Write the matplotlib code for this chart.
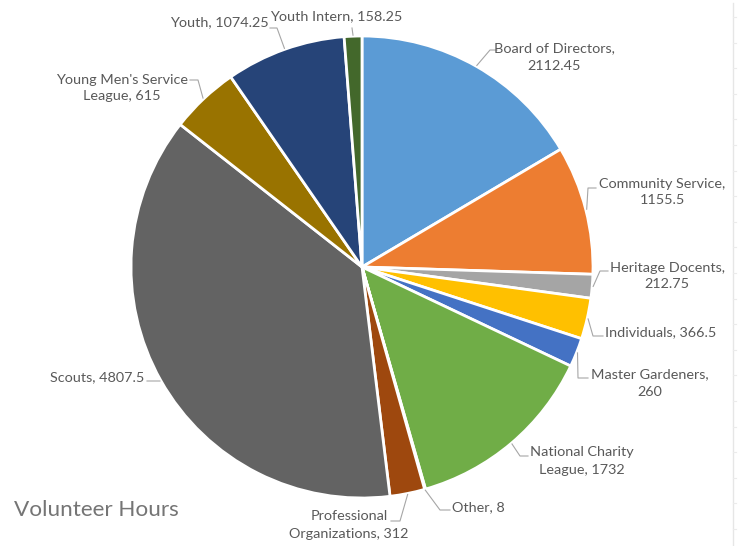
import numpy as np
import matplotlib
matplotlib.use('Agg')
import matplotlib.pyplot as plt

# Volunteer hours by group
groups = ['Board of Directors', 'Community Service', 'Heritage Docents', 'Individuals',
          'Master Gardeners', 'National Charity League', 'Other', 'Professional Organizations',
          'Scouts', "Young Men's Service League", 'Youth', 'Youth Intern']
hours = [2112.45, 1155.5, 212.75, 366.5, 260, 1732, 8, 312, 4807.5, 615, 1074.25, 158.25]
label_text = ['Board of Directors,\n2112.45', 'Community Service,\n1155.5', 'Heritage Docents,\n212.75',
              'Individuals, 366.5', 'Master Gardeners,\n260', 'National Charity\nLeague, 1732',
              'Other, 8', 'Professional\nOrganizations, 312', 'Scouts, 4807.5',
              "Young Men's Service\nLeague, 615", 'Youth, 1074.25', 'Youth Intern, 158.25']
colors = ['#5B9BD5', '#ED7D31', '#A5A5A5', '#FFC000', '#4472C4', '#70AD47',
          '#255E91', '#9E480E', '#636363', '#997300', '#264478', '#43682B']

# label layout in pixel coords (x, y from top): text centre, leader start, leader elbow
text_pos = [(554, 57), (662, 192), (667, 276), (661, 332), (650, 383), (582, 461),
            (478, 507), (349, 525), (97, 377), (122, 88), (219, 22), (336, 16)]
lead_start = [(497, 50), (596, 188), (608, 271), (603, 336), (588, 378), (528, 456),
              (450, 510), (391, 521), (147, 381), (190, 80), (270, 28), (352, 28)]
lead_elbow = [(490, 50), (588, 188), (600, 271), (593, 336), (578, 378), (520, 456),
              (440, 510), (400, 521), (158, 381), (198, 80), (277, 28), (352, 28)]

W, H = 743, 546
fig = plt.figure(figsize=(W / 100, H / 100), dpi=100)
ax = fig.add_axes([0, 0, 1, 1])

cx, cy, r = 362, H - 267, 231
wedges, _ = ax.pie(hours, colors=colors, startangle=90, counterclock=False,
                   center=(cx, cy), radius=r, frame=True,
                   wedgeprops=dict(edgecolor='white', linewidth=2))

font = 'Lato'
for w, txt, tp, ls, le in zip(wedges, label_text, text_pos, lead_start, lead_elbow):
    mid = np.deg2rad((w.theta1 + w.theta2) / 2)
    ex, ey = cx + (r + 1) * np.cos(mid), cy + (r + 1) * np.sin(mid)
    ax.plot([ls[0], le[0], ex], [H - ls[1], H - le[1], ey], color='#A6A6A6', lw=0.8)
    ax.text(tp[0], H - tp[1], txt, ha='center', va='center', fontsize=10.4,
            color='#595959', family=font, linespacing=1.5)

ax.text(14, H - 510, 'Volunteer Hours', ha='left', va='center', fontsize=16.2,
        color='#757575', family=font)

# faint sheet edge on the right
ax.plot([733, 733], [0, H - 3], color='#E6E6E6', lw=1)
for ty in np.arange(17, H, 25.6):
    ax.plot([733, 736], [H - ty, H - ty], color='#EBEBEB', lw=0.8)

ax.set_xlim(0, W)
ax.set_ylim(0, H)
ax.set_aspect('equal')
ax.axis('off')

fig.savefig('out.png', dpi=100, facecolor='white')
